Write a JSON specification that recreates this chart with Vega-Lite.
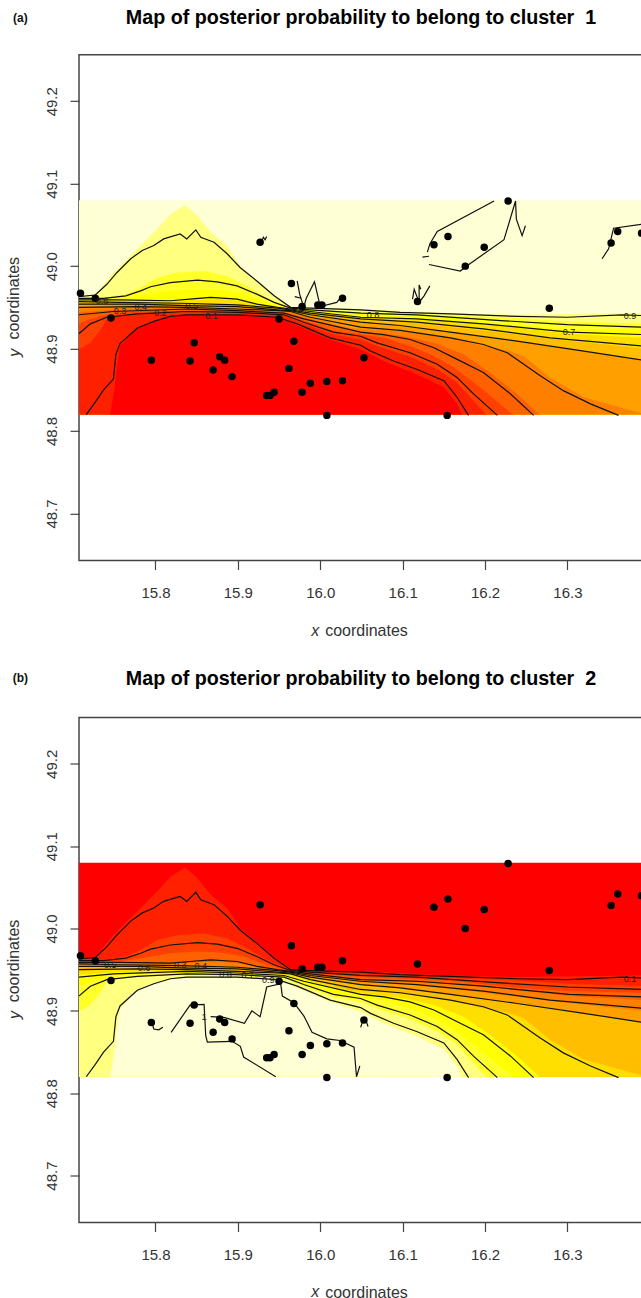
{"$schema":"https://vega.github.io/schema/vega-lite/v6.json","padding":{"left":4,"top":6.8,"right":0,"bottom":0},"spacing":26.7,"background":"white","resolve":{"scale":{"color":"independent"}},
"config":{"view":{"stroke":"#444","strokeWidth":1.5},"font":"Liberation Sans","axis":{"grid":false,"domain":false,"tickColor":"#444","tickSize":9,"tickWidth":1.2,"labelColor":"#333","labelFont":"Liberation Sans","labelFontSize":15,"titleFont":"Liberation Sans","titleFontSize":16,"titleFontWeight":"normal","titleColor":"#333"},"title":{"font":"Liberation Sans","fontSize":19.7,"fontWeight":"bold","color":"black","offset":-16}},
"datasets":{
"fill":[
{"band":"k12","lon":15.707,"lat":49.08},{"band":"k12","lon":16.392,"lat":49.08},
{"band":"k11","lon":15.707,"lat":48.964},{"band":"k11","lon":15.727,"lat":48.966},{"band":"k11","lon":15.749,"lat":48.992},{"band":"k11","lon":15.766,"lat":49.009},{"band":"k11","lon":15.782,"lat":49.025},{"band":"k11","lon":15.802,"lat":49.045},{"band":"k11","lon":15.818,"lat":49.063},{"band":"k11","lon":15.836,"lat":49.074},{"band":"k11","lon":15.851,"lat":49.061},{"band":"k11","lon":15.867,"lat":49.041},{"band":"k11","lon":15.887,"lat":49.025},{"band":"k11","lon":15.903,"lat":49.0},{"band":"k11","lon":15.927,"lat":48.98},{"band":"k11","lon":15.948,"lat":48.962},{"band":"k11","lon":15.966,"lat":48.95},{"band":"k11","lon":16.049,"lat":48.948},{"band":"k11","lon":16.158,"lat":48.943},{"band":"k11","lon":16.239,"lat":48.941},{"band":"k11","lon":16.392,"lat":48.943},
{"band":"k10","lon":15.707,"lat":48.962},{"band":"k10","lon":15.737,"lat":48.962},{"band":"k10","lon":15.764,"lat":48.966},{"band":"k10","lon":15.782,"lat":48.974},{"band":"k10","lon":15.802,"lat":48.986},{"band":"k10","lon":15.826,"lat":48.992},{"band":"k10","lon":15.859,"lat":48.994},{"band":"k10","lon":15.887,"lat":48.988},{"band":"k10","lon":15.911,"lat":48.976},{"band":"k10","lon":15.935,"lat":48.962},{"band":"k10","lon":15.96,"lat":48.951},{"band":"k10","lon":15.988,"lat":48.947},{"band":"k10","lon":16.049,"lat":48.944},{"band":"k10","lon":16.158,"lat":48.94},{"band":"k10","lon":16.239,"lat":48.937},{"band":"k10","lon":16.3,"lat":48.933},{"band":"k10","lon":16.392,"lat":48.93},
{"band":"k9","lon":15.707,"lat":48.96},{"band":"k9","lon":15.757,"lat":48.96},{"band":"k9","lon":15.782,"lat":48.964},{"band":"k9","lon":15.818,"lat":48.97},{"band":"k9","lon":15.851,"lat":48.972},{"band":"k9","lon":15.879,"lat":48.971},{"band":"k9","lon":15.907,"lat":48.966},{"band":"k9","lon":15.935,"lat":48.956},{"band":"k9","lon":15.96,"lat":48.949},{"band":"k9","lon":15.988,"lat":48.946},{"band":"k9","lon":16.049,"lat":48.941},{"band":"k9","lon":16.158,"lat":48.937},{"band":"k9","lon":16.239,"lat":48.928},{"band":"k9","lon":16.3,"lat":48.924},{"band":"k9","lon":16.392,"lat":48.922},
{"band":"k8","lon":15.707,"lat":48.958},{"band":"k8","lon":15.757,"lat":48.958},{"band":"k8","lon":15.818,"lat":48.957},{"band":"k8","lon":15.851,"lat":48.959},{"band":"k8","lon":15.879,"lat":48.96},{"band":"k8","lon":15.907,"lat":48.957},{"band":"k8","lon":15.935,"lat":48.952},{"band":"k8","lon":15.96,"lat":48.948},{"band":"k8","lon":15.988,"lat":48.944},{"band":"k8","lon":16.049,"lat":48.938},{"band":"k8","lon":16.158,"lat":48.933},{"band":"k8","lon":16.239,"lat":48.925},{"band":"k8","lon":16.302,"lat":48.918},{"band":"k8","lon":16.392,"lat":48.913},
{"band":"k7","lon":15.707,"lat":48.956},{"band":"k7","lon":15.757,"lat":48.955},{"band":"k7","lon":15.83,"lat":48.954},{"band":"k7","lon":15.899,"lat":48.953},{"band":"k7","lon":15.948,"lat":48.949},{"band":"k7","lon":15.964,"lat":48.947},{"band":"k7","lon":15.988,"lat":48.943},{"band":"k7","lon":16.049,"lat":48.935},{"band":"k7","lon":16.117,"lat":48.931},{"band":"k7","lon":16.198,"lat":48.922},{"band":"k7","lon":16.279,"lat":48.912},{"band":"k7","lon":16.392,"lat":48.9},
{"band":"k6","lon":15.707,"lat":48.954},{"band":"k6","lon":15.778,"lat":48.954},{"band":"k6","lon":15.838,"lat":48.952},{"band":"k6","lon":15.899,"lat":48.951},{"band":"k6","lon":15.948,"lat":48.947},{"band":"k6","lon":15.964,"lat":48.946},{"band":"k6","lon":15.988,"lat":48.941},{"band":"k6","lon":16.049,"lat":48.932},{"band":"k6","lon":16.097,"lat":48.928},{"band":"k6","lon":16.158,"lat":48.92},{"band":"k6","lon":16.239,"lat":48.909},{"band":"k6","lon":16.32,"lat":48.897},{"band":"k6","lon":16.392,"lat":48.886},
{"band":"k5","lon":15.707,"lat":48.949},{"band":"k5","lon":15.778,"lat":48.951},{"band":"k5","lon":15.838,"lat":48.949},{"band":"k5","lon":15.899,"lat":48.947},{"band":"k5","lon":15.948,"lat":48.945},{"band":"k5","lon":15.964,"lat":48.945},{"band":"k5","lon":15.988,"lat":48.938},{"band":"k5","lon":16.037,"lat":48.925},{"band":"k5","lon":16.097,"lat":48.921},{"band":"k5","lon":16.158,"lat":48.913},{"band":"k5","lon":16.198,"lat":48.903},{"band":"k5","lon":16.227,"lat":48.898},{"band":"k5","lon":16.247,"lat":48.891},{"band":"k5","lon":16.279,"lat":48.865},{"band":"k5","lon":16.32,"lat":48.841},{"band":"k5","lon":16.392,"lat":48.821},
{"band":"k4","lon":15.707,"lat":48.944},{"band":"k4","lon":15.749,"lat":48.947},{"band":"k4","lon":15.838,"lat":48.949},{"band":"k4","lon":15.899,"lat":48.947},{"band":"k4","lon":15.956,"lat":48.944},{"band":"k4","lon":15.98,"lat":48.938},{"band":"k4","lon":16.037,"lat":48.922},{"band":"k4","lon":16.097,"lat":48.916},{"band":"k4","lon":16.138,"lat":48.907},{"band":"k4","lon":16.174,"lat":48.893},{"band":"k4","lon":16.206,"lat":48.871},{"band":"k4","lon":16.239,"lat":48.845},{"band":"k4","lon":16.267,"lat":48.819},
{"band":"k3","lon":15.707,"lat":48.93},{"band":"k3","lon":15.721,"lat":48.936},{"band":"k3","lon":15.741,"lat":48.941},{"band":"k3","lon":15.778,"lat":48.945},{"band":"k3","lon":15.838,"lat":48.946},{"band":"k3","lon":15.899,"lat":48.945},{"band":"k3","lon":15.956,"lat":48.942},{"band":"k3","lon":15.98,"lat":48.934},{"band":"k3","lon":16.016,"lat":48.922},{"band":"k3","lon":16.049,"lat":48.917},{"band":"k3","lon":16.077,"lat":48.913},{"band":"k3","lon":16.109,"lat":48.903},{"band":"k3","lon":16.138,"lat":48.891},{"band":"k3","lon":16.162,"lat":48.877},{"band":"k3","lon":16.194,"lat":48.853},{"band":"k3","lon":16.223,"lat":48.829},{"band":"k3","lon":16.235,"lat":48.819},
{"band":"k2","lon":15.707,"lat":48.899},{"band":"k2","lon":15.721,"lat":48.907},{"band":"k2","lon":15.733,"lat":48.922},{"band":"k2","lon":15.741,"lat":48.936},{"band":"k2","lon":15.757,"lat":48.941},{"band":"k2","lon":15.798,"lat":48.943},{"band":"k2","lon":15.838,"lat":48.943},{"band":"k2","lon":15.899,"lat":48.943},{"band":"k2","lon":15.956,"lat":48.94},{"band":"k2","lon":15.98,"lat":48.93},{"band":"k2","lon":16.016,"lat":48.917},{"band":"k2","lon":16.049,"lat":48.911},{"band":"k2","lon":16.069,"lat":48.903},{"band":"k2","lon":16.109,"lat":48.89},{"band":"k2","lon":16.142,"lat":48.875},{"band":"k2","lon":16.166,"lat":48.859},{"band":"k2","lon":16.182,"lat":48.841},{"band":"k2","lon":16.202,"lat":48.819},
{"band":"k1","lon":15.745,"lat":48.82},{"band":"k1","lon":15.75,"lat":48.849},{"band":"k1","lon":15.753,"lat":48.877},{"band":"k1","lon":15.757,"lat":48.903},{"band":"k1","lon":15.778,"lat":48.925},{"band":"k1","lon":15.802,"lat":48.935},{"band":"k1","lon":15.834,"lat":48.94},{"band":"k1","lon":15.899,"lat":48.94},{"band":"k1","lon":15.948,"lat":48.938},{"band":"k1","lon":15.972,"lat":48.928},{"band":"k1","lon":16.012,"lat":48.911},{"band":"k1","lon":16.049,"lat":48.899},{"band":"k1","lon":16.077,"lat":48.885},{"band":"k1","lon":16.117,"lat":48.869},{"band":"k1","lon":16.15,"lat":48.853},{"band":"k1","lon":16.166,"lat":48.833},{"band":"k1","lon":16.172,"lat":48.819}
],
"lines":[
{"c":"0.9","lon":15.707,"lat":48.963},{"c":"0.9","lon":15.727,"lat":48.965},{"c":"0.9","lon":15.741,"lat":48.978},{"c":"0.9","lon":15.753,"lat":48.992},{"c":"0.9","lon":15.77,"lat":49.009},{"c":"0.9","lon":15.784,"lat":49.019},{"c":"0.9","lon":15.798,"lat":49.025},{"c":"0.9","lon":15.81,"lat":49.033},{"c":"0.9","lon":15.83,"lat":49.039},{"c":"0.9","lon":15.838,"lat":49.033},{"c":"0.9","lon":15.849,"lat":49.044},{"c":"0.9","lon":15.855,"lat":49.035},{"c":"0.9","lon":15.871,"lat":49.029},{"c":"0.9","lon":15.887,"lat":49.015},{"c":"0.9","lon":15.903,"lat":48.998},{"c":"0.9","lon":15.923,"lat":48.982},{"c":"0.9","lon":15.944,"lat":48.964},{"c":"0.9","lon":15.964,"lat":48.95},{"c":"0.9","lon":15.988,"lat":48.949},{"c":"0.9","lon":16.049,"lat":48.947},{"c":"0.9","lon":16.097,"lat":48.944},{"c":"0.9","lon":16.158,"lat":48.942},{"c":"0.9","lon":16.239,"lat":48.939},{"c":"0.9","lon":16.3,"lat":48.938},{"c":"0.9","lon":16.366,"lat":48.941},{"c":"0.9","lon":16.392,"lat":48.94},
{"c":"0.8","lon":15.707,"lat":48.961},{"c":"0.8","lon":15.737,"lat":48.961},{"c":"0.8","lon":15.764,"lat":48.964},{"c":"0.8","lon":15.782,"lat":48.97},{"c":"0.8","lon":15.794,"lat":48.975},{"c":"0.8","lon":15.818,"lat":48.98},{"c":"0.8","lon":15.851,"lat":48.983},{"c":"0.8","lon":15.875,"lat":48.981},{"c":"0.8","lon":15.899,"lat":48.976},{"c":"0.8","lon":15.923,"lat":48.966},{"c":"0.8","lon":15.944,"lat":48.956},{"c":"0.8","lon":15.964,"lat":48.949},{"c":"0.8","lon":15.988,"lat":48.947},{"c":"0.8","lon":16.049,"lat":48.943},{"c":"0.8","lon":16.117,"lat":48.941},{"c":"0.8","lon":16.219,"lat":48.934},{"c":"0.8","lon":16.3,"lat":48.929},{"c":"0.8","lon":16.392,"lat":48.926},
{"c":"0.7","lon":15.707,"lat":48.959},{"c":"0.7","lon":15.757,"lat":48.959},{"c":"0.7","lon":15.818,"lat":48.958},{"c":"0.7","lon":15.842,"lat":48.96},{"c":"0.7","lon":15.867,"lat":48.962},{"c":"0.7","lon":15.899,"lat":48.96},{"c":"0.7","lon":15.923,"lat":48.954},{"c":"0.7","lon":15.948,"lat":48.95},{"c":"0.7","lon":15.964,"lat":48.948},{"c":"0.7","lon":15.988,"lat":48.945},{"c":"0.7","lon":16.049,"lat":48.938},{"c":"0.7","lon":16.117,"lat":48.936},{"c":"0.7","lon":16.198,"lat":48.93},{"c":"0.7","lon":16.302,"lat":48.92},{"c":"0.7","lon":16.392,"lat":48.917},
{"c":"0.6","lon":15.707,"lat":48.957},{"c":"0.6","lon":15.757,"lat":48.956},{"c":"0.6","lon":15.83,"lat":48.955},{"c":"0.6","lon":15.899,"lat":48.953},{"c":"0.6","lon":15.948,"lat":48.949},{"c":"0.6","lon":15.964,"lat":48.947},{"c":"0.6","lon":15.988,"lat":48.943},{"c":"0.6","lon":16.049,"lat":48.936},{"c":"0.6","lon":16.117,"lat":48.932},{"c":"0.6","lon":16.198,"lat":48.924},{"c":"0.6","lon":16.279,"lat":48.913},{"c":"0.6","lon":16.392,"lat":48.903},
{"c":"0.5","lon":15.707,"lat":48.954},{"c":"0.5","lon":15.778,"lat":48.954},{"c":"0.5","lon":15.838,"lat":48.952},{"c":"0.5","lon":15.899,"lat":48.951},{"c":"0.5","lon":15.948,"lat":48.947},{"c":"0.5","lon":15.964,"lat":48.946},{"c":"0.5","lon":15.988,"lat":48.941},{"c":"0.5","lon":16.049,"lat":48.932},{"c":"0.5","lon":16.097,"lat":48.928},{"c":"0.5","lon":16.158,"lat":48.92},{"c":"0.5","lon":16.239,"lat":48.909},{"c":"0.5","lon":16.32,"lat":48.897},{"c":"0.5","lon":16.392,"lat":48.886},
{"c":"0.4","lon":15.707,"lat":48.95},{"c":"0.4","lon":15.778,"lat":48.951},{"c":"0.4","lon":15.838,"lat":48.95},{"c":"0.4","lon":15.899,"lat":48.948},{"c":"0.4","lon":15.948,"lat":48.946},{"c":"0.4","lon":15.964,"lat":48.945},{"c":"0.4","lon":15.988,"lat":48.938},{"c":"0.4","lon":16.049,"lat":48.926},{"c":"0.4","lon":16.097,"lat":48.922},{"c":"0.4","lon":16.158,"lat":48.913},{"c":"0.4","lon":16.198,"lat":48.905},{"c":"0.4","lon":16.227,"lat":48.895},{"c":"0.4","lon":16.247,"lat":48.881},{"c":"0.4","lon":16.267,"lat":48.867},{"c":"0.4","lon":16.295,"lat":48.849},{"c":"0.4","lon":16.328,"lat":48.833},{"c":"0.4","lon":16.362,"lat":48.819},
{"c":"0.3","lon":15.707,"lat":48.941},{"c":"0.3","lon":15.749,"lat":48.945},{"c":"0.3","lon":15.838,"lat":48.948},{"c":"0.3","lon":15.899,"lat":48.946},{"c":"0.3","lon":15.956,"lat":48.943},{"c":"0.3","lon":15.98,"lat":48.936},{"c":"0.3","lon":16.049,"lat":48.92},{"c":"0.3","lon":16.077,"lat":48.917},{"c":"0.3","lon":16.109,"lat":48.911},{"c":"0.3","lon":16.138,"lat":48.901},{"c":"0.3","lon":16.162,"lat":48.889},{"c":"0.3","lon":16.198,"lat":48.871},{"c":"0.3","lon":16.231,"lat":48.845},{"c":"0.3","lon":16.259,"lat":48.819},
{"c":"0.2","lon":15.707,"lat":48.918},{"c":"0.2","lon":15.721,"lat":48.93},{"c":"0.2","lon":15.741,"lat":48.938},{"c":"0.2","lon":15.778,"lat":48.942},{"c":"0.2","lon":15.838,"lat":48.945},{"c":"0.2","lon":15.899,"lat":48.944},{"c":"0.2","lon":15.956,"lat":48.941},{"c":"0.2","lon":15.98,"lat":48.932},{"c":"0.2","lon":16.016,"lat":48.92},{"c":"0.2","lon":16.049,"lat":48.915},{"c":"0.2","lon":16.069,"lat":48.907},{"c":"0.2","lon":16.109,"lat":48.895},{"c":"0.2","lon":16.142,"lat":48.881},{"c":"0.2","lon":16.166,"lat":48.865},{"c":"0.2","lon":16.186,"lat":48.845},{"c":"0.2","lon":16.215,"lat":48.819},
{"c":"0.1","lon":15.716,"lat":48.82},{"c":"0.1","lon":15.727,"lat":48.835},{"c":"0.1","lon":15.737,"lat":48.85},{"c":"0.1","lon":15.749,"lat":48.863},{"c":"0.1","lon":15.752,"lat":48.893},{"c":"0.1","lon":15.757,"lat":48.906},{"c":"0.1","lon":15.778,"lat":48.925},{"c":"0.1","lon":15.798,"lat":48.933},{"c":"0.1","lon":15.818,"lat":48.939},{"c":"0.1","lon":15.838,"lat":48.941},{"c":"0.1","lon":15.899,"lat":48.941},{"c":"0.1","lon":15.948,"lat":48.938},{"c":"0.1","lon":15.972,"lat":48.93},{"c":"0.1","lon":16.012,"lat":48.913},{"c":"0.1","lon":16.049,"lat":48.904},{"c":"0.1","lon":16.061,"lat":48.897},{"c":"0.1","lon":16.089,"lat":48.885},{"c":"0.1","lon":16.117,"lat":48.875},{"c":"0.1","lon":16.15,"lat":48.861},{"c":"0.1","lon":16.166,"lat":48.841},{"c":"0.1","lon":16.18,"lat":48.819}
],
"extraA":[
{"c":"A","lon":15.927,"lat":49.029},{"c":"A","lon":15.931,"lat":49.035},{"c":"A","lon":15.935,"lat":49.036},{"c":"A","lon":15.933,"lat":49.032},{"c":"A","lon":15.928,"lat":49.028},
{"c":"B","lon":15.972,"lat":48.982},{"c":"B","lon":15.975,"lat":48.966},{"c":"B","lon":15.983,"lat":48.961},{"c":"B","lon":15.993,"lat":48.981},{"c":"B","lon":16.025,"lat":48.962},{"c":"B","lon":16.02,"lat":48.956},{"c":"B","lon":16.0,"lat":48.951},{"c":"B","lon":15.98,"lat":48.95},
{"c":"B2","lon":15.969,"lat":48.963},{"c":"B2","lon":15.977,"lat":48.961},
{"c":"C1","lon":16.211,"lat":49.079},{"c":"C1","lon":16.142,"lat":49.042},{"c":"C1","lon":16.133,"lat":49.027},{"c":"C1","lon":16.13,"lat":49.017},
{"c":"C2","lon":16.124,"lat":49.011},{"c":"C2","lon":16.132,"lat":49.012},
{"c":"C3","lon":16.132,"lat":49.002},{"c":"C3","lon":16.17,"lat":48.994},{"c":"C3","lon":16.176,"lat":48.999},{"c":"C3","lon":16.223,"lat":49.032},{"c":"C3","lon":16.238,"lat":49.057},{"c":"C3","lon":16.245,"lat":49.037},{"c":"C3","lon":16.249,"lat":49.049},{"c":"C3","lon":16.237,"lat":49.079},
{"c":"D1","lon":16.12,"lat":48.956},{"c":"D1","lon":16.112,"lat":48.96},{"c":"D1","lon":16.114,"lat":48.972},{"c":"D1","lon":16.12,"lat":48.977},{"c":"D1","lon":16.122,"lat":48.972},
{"c":"D2","lon":16.133,"lat":48.976},{"c":"D2","lon":16.126,"lat":48.964},{"c":"D2","lon":16.12,"lat":48.956},
{"c":"E","lon":16.392,"lat":49.051},{"c":"E","lon":16.356,"lat":49.046},{"c":"E","lon":16.35,"lat":49.021},{"c":"E","lon":16.342,"lat":49.009},{"c":"E","lon":16.392,"lat":49.029}
],
"extraB":[
{"c":"P1","lon":15.946,"lat":48.82},{"c":"P1","lon":15.907,"lat":48.844},{"c":"P1","lon":15.903,"lat":48.857},{"c":"P1","lon":15.893,"lat":48.863},{"c":"P1","lon":15.863,"lat":48.862},{"c":"P1","lon":15.861,"lat":48.87},{"c":"P1","lon":15.819,"lat":48.874},{"c":"P1","lon":15.842,"lat":48.907},{"c":"P1","lon":15.859,"lat":48.908},
{"c":"P2","lon":15.867,"lat":48.893},{"c":"P2","lon":15.883,"lat":48.892},{"c":"P2","lon":15.908,"lat":48.885},{"c":"P2","lon":15.927,"lat":48.893},{"c":"P2","lon":15.917,"lat":48.9},{"c":"P2","lon":15.935,"lat":48.929},{"c":"P2","lon":15.952,"lat":48.933},{"c":"P2","lon":15.954,"lat":48.918},{"c":"P2","lon":15.968,"lat":48.91},{"c":"P2","lon":15.98,"lat":48.894},{"c":"P2","lon":15.99,"lat":48.874},{"c":"P2","lon":16.008,"lat":48.866},{"c":"P2","lon":16.024,"lat":48.864},{"c":"P2","lon":16.041,"lat":48.856},{"c":"P2","lon":16.048,"lat":48.833},{"c":"P2","lon":16.044,"lat":48.82},
{"c":"S1","lon":15.795,"lat":48.888},{"c":"S1","lon":15.798,"lat":48.878},{"c":"S1","lon":15.804,"lat":48.877},{"c":"S1","lon":15.809,"lat":48.88},
{"c":"S2","lon":16.052,"lat":48.889},{"c":"S2","lon":16.049,"lat":48.88},{"c":"S2","lon":16.058,"lat":48.881},{"c":"S2","lon":16.056,"lat":48.887}
],
"points":[
{"lon":15.709,"lat":48.967},{"lon":15.727,"lat":48.961},{"lon":15.746,"lat":48.937},{"lon":15.927,"lat":49.029},{"lon":15.965,"lat":48.979},{"lon":15.978,"lat":48.951},{"lon":15.997,"lat":48.953},{"lon":16.002,"lat":48.953},{"lon":16.027,"lat":48.961},{"lon":15.95,"lat":48.936},{"lon":15.847,"lat":48.907},{"lon":15.968,"lat":48.909},{"lon":15.795,"lat":48.886},{"lon":15.842,"lat":48.885},{"lon":15.878,"lat":48.89},{"lon":15.884,"lat":48.886},{"lon":15.87,"lat":48.874},{"lon":15.893,"lat":48.866},{"lon":15.962,"lat":48.876},{"lon":15.988,"lat":48.858},{"lon":16.008,"lat":48.86},{"lon":16.027,"lat":48.861},{"lon":15.978,"lat":48.847},{"lon":15.944,"lat":48.847},{"lon":15.939,"lat":48.843},{"lon":15.935,"lat":48.843},{"lon":16.008,"lat":48.819},{"lon":16.228,"lat":49.079},{"lon":16.155,"lat":49.036},{"lon":16.138,"lat":49.026},{"lon":16.199,"lat":49.023},{"lon":16.176,"lat":49.0},{"lon":16.118,"lat":48.957},{"lon":16.278,"lat":48.949},{"lon":16.053,"lat":48.889},{"lon":16.154,"lat":48.819},{"lon":16.361,"lat":49.042},{"lon":16.353,"lat":49.028},{"lon":16.39,"lat":49.04}
],
"labelsA":[
{"t":"0.6","lon":15.735,"lat":48.958},{"t":"0.4","lon":15.782,"lat":48.951},{"t":"0.5","lon":15.844,"lat":48.952},{"t":"0.3","lon":15.757,"lat":48.945},{"t":"0.2","lon":15.806,"lat":48.943},{"t":"0.1","lon":15.868,"lat":48.939},{"t":"0.8","lon":16.064,"lat":48.941},{"t":"0.7","lon":16.302,"lat":48.92},{"t":"0.9","lon":16.376,"lat":48.939}
],
"labelsB":[
{"t":"0.5","lon":15.745,"lat":48.956},{"t":"0.6","lon":15.786,"lat":48.952},{"t":"0.3","lon":15.83,"lat":48.956},{"t":"0.4","lon":15.855,"lat":48.954},{"t":"0.8","lon":15.885,"lat":48.943},{"t":"0.7","lon":15.912,"lat":48.943},{"t":"0.9","lon":15.937,"lat":48.937},{"t":"1","lon":15.859,"lat":48.893},{"t":"0.1","lon":16.376,"lat":48.939}
],
"sideA":[{"t":"(a)","lon":15.636,"lat":49.301}],
"sideB":[{"t":"(b)","lon":15.636,"lat":49.304}],
"xA":[{"t":"x","lon":15.994,"lat":48.557}],
"xB":[{"t":"x","lon":15.994,"lat":48.559}],
"yA":[{"t":"y","lon":15.63,"lat":48.895}],
"yB":[{"t":"y","lon":15.63,"lat":48.895}]
},
"vconcat":[
{"width":564,"height":505.7,"title":{"text":"Map of posterior probability to belong to cluster \u00a01"},
"encoding":{"x":{"field":"lon","type":"quantitative","scale":{"domain":[15.7072,16.3917],"nice":false,"zero":false},"axis":{"values":[15.8,15.9,16.0,16.1,16.2,16.3],"format":".1f","title":"coordinates","titleX":287,"titlePadding":22,"labelPadding":16}},
"y":{"field":"lat","type":"quantitative","scale":{"domain":[48.643,49.2563],"nice":false,"zero":false},"axis":{"values":[48.7,48.8,48.9,49.0,49.1,49.2],"format":".1f","title":"coordinates","titleY":243,"titlePadding":23,"labelPadding":10.5,"labelAngle":270,"labelAlign":"center","labelBaseline":"bottom"}}},
"layer":[
{"data":{"name":"fill"},"mark":{"type":"area","clip":true,"line":false,"interpolate":"linear"},"encoding":{"y2":{"datum":48.82},"color":{"field":"band","type":"nominal","legend":null,"scale":{"domain":["k12","k11","k10","k9","k8","k7","k6","k5","k4","k3","k2","k1"],"range":["#FFFFD5","#FFFF80","#FFFF2A","#FFFF00","#FFDF00","#FFBF00","#FF9F00","#FF8000","#FF6000","#FF4000","#FF2000","#FF0000"]}}}},
{"data":{"name":"lines"},"mark":{"type":"line","clip":true,"color":"#111","strokeWidth":1.2},"encoding":{"detail":{"field":"c"},"order":{"value":0}}},
{"data":{"name":"extraA"},"mark":{"type":"line","clip":true,"color":"#111","strokeWidth":1.2},"encoding":{"detail":{"field":"c"},"order":{"value":0}}},
{"data":{"name":"points"},"mark":{"type":"point","filled":true,"color":"black","opacity":1,"size":56}},
{"data":{"name":"labelsA"},"mark":{"type":"text","fontSize":9,"color":"#222"},"encoding":{"text":{"field":"t"}}},
{"data":{"name":"sideA"},"mark":{"type":"text","fontSize":12,"fontWeight":"bold","color":"#111"},"encoding":{"text":{"field":"t"}}},
{"data":{"name":"xA"},"mark":{"type":"text","fontSize":16,"fontStyle":"italic","color":"#333"},"encoding":{"text":{"field":"t"}}},
{"data":{"name":"yA"},"mark":{"type":"text","fontSize":16,"fontStyle":"italic","color":"#333","angle":270},"encoding":{"text":{"field":"t"}}}
]},
{"width":564,"height":505,"title":{"text":"Map of posterior probability to belong to cluster \u00a02"},
"encoding":{"x":{"field":"lon","type":"quantitative","scale":{"domain":[15.7072,16.3917],"nice":false,"zero":false},"axis":{"values":[15.8,15.9,16.0,16.1,16.2,16.3],"format":".1f","title":"coordinates","titleX":287,"titlePadding":22,"labelPadding":16}},
"y":{"field":"lat","type":"quantitative","scale":{"domain":[48.643,49.2563],"nice":false,"zero":false},"axis":{"values":[48.7,48.8,48.9,49.0,49.1,49.2],"format":".1f","title":"coordinates","titleY":243,"titlePadding":23,"labelPadding":10.5,"labelAngle":270,"labelAlign":"center","labelBaseline":"bottom"}}},
"layer":[
{"data":{"name":"fill"},"mark":{"type":"area","clip":true,"line":false,"interpolate":"linear"},"encoding":{"y2":{"datum":48.82},"color":{"field":"band","type":"nominal","legend":null,"scale":{"domain":["k12","k11","k10","k9","k8","k7","k6","k5","k4","k3","k2","k1"],"range":["#FF0000","#FF2000","#FF4000","#FF6000","#FF8000","#FF9F00","#FFBF00","#FFDF00","#FFFF00","#FFFF2A","#FFFF80","#FFFFD5"]}}}},
{"data":{"name":"lines"},"mark":{"type":"line","clip":true,"color":"#111","strokeWidth":1.2},"encoding":{"detail":{"field":"c"},"order":{"value":0}}},
{"data":{"name":"extraB"},"mark":{"type":"line","clip":true,"color":"#111","strokeWidth":1.2},"encoding":{"detail":{"field":"c"},"order":{"value":0}}},
{"data":{"name":"points"},"mark":{"type":"point","filled":true,"color":"black","opacity":1,"size":56}},
{"data":{"name":"labelsB"},"mark":{"type":"text","fontSize":9,"color":"#222"},"encoding":{"text":{"field":"t"}}},
{"data":{"name":"sideB"},"mark":{"type":"text","fontSize":12,"fontWeight":"bold","color":"#111"},"encoding":{"text":{"field":"t"}}},
{"data":{"name":"xB"},"mark":{"type":"text","fontSize":16,"fontStyle":"italic","color":"#333"},"encoding":{"text":{"field":"t"}}},
{"data":{"name":"yB"},"mark":{"type":"text","fontSize":16,"fontStyle":"italic","color":"#333","angle":270},"encoding":{"text":{"field":"t"}}}
]}
]}
